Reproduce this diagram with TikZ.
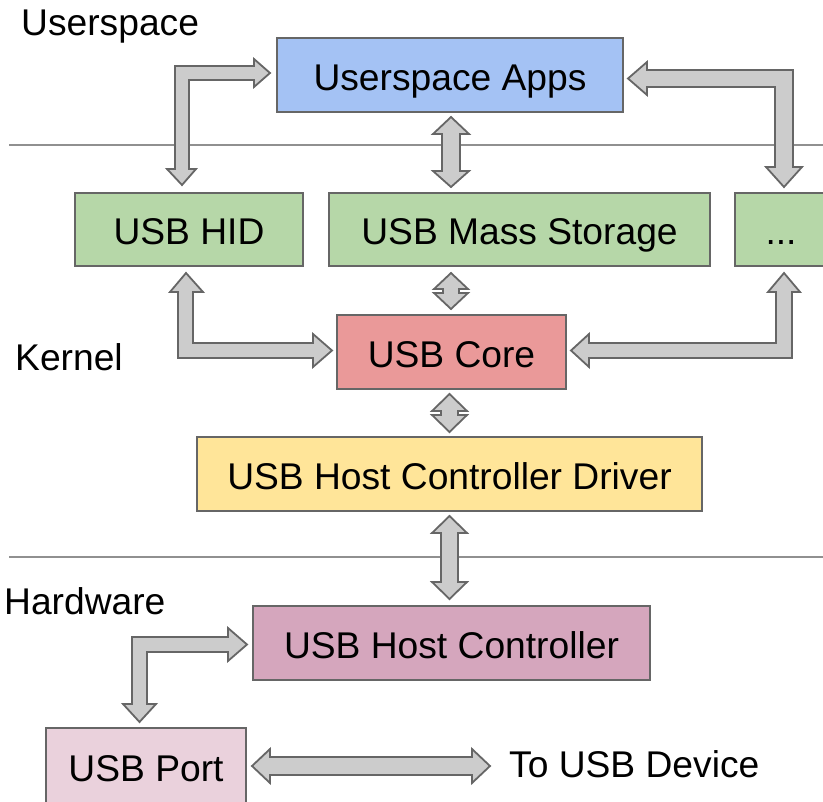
\documentclass[tikz,border=0pt]{standalone}
\usepackage{fontspec}
\setmainfont{Liberation Sans}
\definecolor{edge}{HTML}{666666}
\definecolor{rule}{HTML}{909090}
\definecolor{arrowgray}{HTML}{CCCCCC}
\definecolor{appsblue}{HTML}{A4C2F4}
\definecolor{drvgreen}{HTML}{B6D7A8}
\definecolor{corered}{HTML}{EA9999}
\definecolor{hcdyellow}{HTML}{FFE599}
\definecolor{hcpink}{HTML}{D5A6BD}
\definecolor{portpink}{HTML}{EAD1DC}
\tikzset{
  every node/.style={font=\fontsize{37.2bp}{44bp}\selectfont, inner sep=0pt,
                     text height=30.6bp, text depth=0bp},
  layerbox/.style={draw=edge, line width=1.5bp, rectangle},
  layerlabel/.style={anchor=west},
  blockarrow/.style={draw=edge, fill=arrowgray, line width=1.8bp, line join=miter},
  layerrule/.style={draw=rule, line width=1.5bp},
}
\begin{document}
\begin{tikzpicture}[x=1bp,y=-1bp]
\useasboundingbox (0,0) rectangle (823,802);

% layer separators
\draw[layerrule] (9,145) -- (823,145);
\draw[layerrule] (9,557) -- (823,557);

% layer labels
\node[layerlabel] (lblUser) at (21,20) {Userspace};
\node[layerlabel] (lblKernel) at (15,355) {Kernel};
\node[layerlabel] (lblHw) at (4,599) {Hardware};
\node[layerlabel] (lblDev) at (509,762) {To USB Device};

% components
\node[layerbox, fill=appsblue, minimum width=346bp, minimum height=74bp] (apps) at (450,75) {Userspace Apps};
\node[layerbox, fill=drvgreen, minimum width=228bp, minimum height=73bp] (hid) at (189,229.5) {USB HID};
\node[layerbox, fill=drvgreen, minimum width=381bp, minimum height=73bp] (msc) at (519.5,229.5) {USB Mass Storage};
\node[layerbox, fill=drvgreen, minimum width=92bp, minimum height=73bp] (more) at (781,229.5) {...};
\node[layerbox, fill=corered, minimum width=229bp, minimum height=74bp] (core) at (451.5,352) {USB Core};
\node[layerbox, fill=hcdyellow, minimum width=505bp, minimum height=74bp] (hcd) at (449.5,474) {USB Host Controller Driver};
\node[layerbox, fill=hcpink, minimum width=397bp, minimum height=74bp] (hc) at (451.5,643) {USB Host Controller};
\node[layerbox, fill=portpink, minimum width=200bp, minimum height=76bp] (port) at (146,766) {USB Port};

% block arrows
% HID <-> Userspace Apps
\path[blockarrow] (182,185) -- (196,169) -- (189,169) -- (189,80) -- (254,80) -- (254,87)
  -- (270,73) -- (254,59) -- (254,66) -- (175,66) -- (175,169) -- (167,169) -- cycle;
% Userspace Apps <-> Mass Storage
\path[blockarrow] (451,117) -- (469,134) -- (460,134) -- (460,171) -- (469,171) -- (451,187)
  -- (433,171) -- (442,171) -- (442,134) -- (433,134) -- cycle;
% Userspace Apps <-> other drivers
\path[blockarrow] (628,78.5) -- (647,62) -- (647,70) -- (793,70) -- (793,167) -- (802,167)
  -- (784,187) -- (766,167) -- (775,167) -- (775,87) -- (647,87) -- (647,95) -- cycle;
% other drivers <-> USB Core
\path[blockarrow] (784,273) -- (800,292) -- (792,292) -- (792,358) -- (589,358) -- (589,367)
  -- (571,350.5) -- (589,334) -- (589,343) -- (776,343) -- (776,292) -- (768,292) -- cycle;
% HID <-> USB Core
\path[blockarrow] (186,273) -- (203,292) -- (193,292) -- (193,343) -- (313,343) -- (313,334)
  -- (332,350.5) -- (313,367) -- (313,358) -- (178,358) -- (178,292) -- (170,292) -- cycle;
% Mass Storage <-> USB Core
\path[blockarrow] (451,273) -- (468,289) -- (459,289) -- (459,293) -- (468,293) -- (451,309)
  -- (434,293) -- (443,293) -- (443,289) -- (434,289) -- cycle;
% USB Core <-> Host Controller Driver
\path[blockarrow] (449.5,394) -- (467,411) -- (458,411) -- (458,415) -- (467,415) -- (449.5,432)
  -- (432,415) -- (441,415) -- (441,411) -- (432,411) -- cycle;
% Host Controller Driver <-> Host Controller
\path[blockarrow] (449.5,516) -- (467,533) -- (458,533) -- (458,582) -- (467,582) -- (449.5,599)
  -- (432,582) -- (441,582) -- (441,533) -- (432,533) -- cycle;
% Host Controller <-> USB Port
\path[blockarrow] (247,644.5) -- (228,661) -- (228,652) -- (147,652) -- (147,704) -- (156,704)
  -- (139.5,722) -- (123,704) -- (132,704) -- (132,637) -- (228,637) -- (228,628) -- cycle;
% USB Port <-> device
\path[blockarrow] (252,766) -- (270,749) -- (270,757) -- (472,757) -- (472,749) -- (490,766)
  -- (472,783) -- (472,775) -- (270,775) -- (270,783) -- cycle;
\end{tikzpicture}
\end{document}
